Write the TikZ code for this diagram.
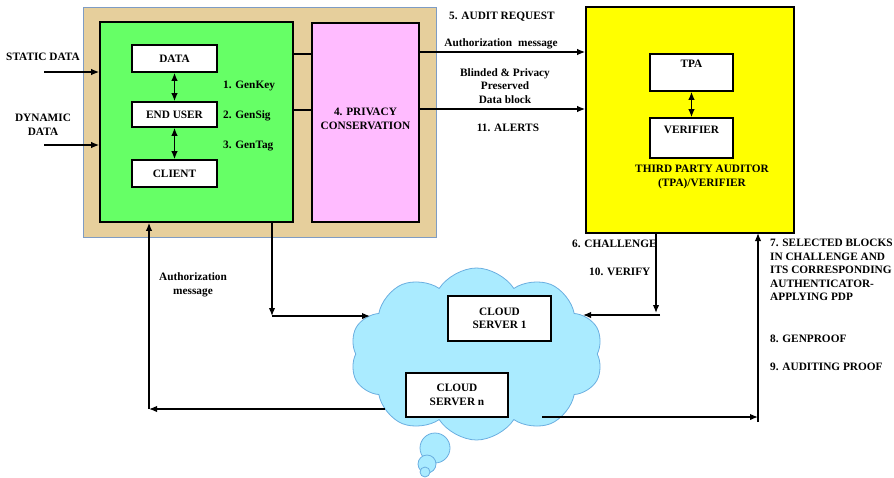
\documentclass[tikz,border=0pt]{standalone}
\usepackage{fontspec}
\setmainfont{Liberation Serif}
\usetikzlibrary{arrows.meta,shapes.symbols}
\definecolor{tanbg}{HTML}{E6CF9C}
\definecolor{tanedge}{HTML}{7E9CC4}
\definecolor{greenbox}{HTML}{66FF66}
\definecolor{pinkbox}{HTML}{FFBBFF}
\definecolor{yellowbox}{HTML}{FFFF00}
\definecolor{cloudfill}{HTML}{AAEBFF}
\definecolor{cloudedge}{HTML}{6AAEE0}
\begin{document}
\begin{tikzpicture}[x=1pt,y=-1pt,
  font=\bfseries\fontsize{11.3}{13.5}\selectfont,
  panel/.style={draw, line width=1.6pt, inner sep=0pt},
  wbox/.style={draw, line width=1.6pt, fill=white, inner sep=0pt, align=center},
  lbl/.style={inner sep=0pt, align=center},
  plain/.style={line width=1.4pt},
  tip/.tip={Latex[length=8pt,width=6.5pt]},
  conn/.style={line width=1.4pt, -tip},
  dconn/.style={line width=1.4pt, tip-tip}]
\useasboundingbox (0,0) rectangle (894,477);

% panels
\node[draw=tanedge, line width=0.8pt, fill=tanbg, minimum width=353pt, minimum height=230pt, inner sep=0pt] (tan) at (259.5,122) {};
\node[panel, fill=greenbox, minimum width=193pt, minimum height=200pt] (green) at (196.5,122) {};
\node[panel, fill=pinkbox, minimum width=107pt, minimum height=199pt] (pink) at (365.5,122.5) {};
\node[lbl] (pinktxt) at (365.5,119) {4. PRIVACY\\CONSERVATION};
\node[panel, fill=yellowbox, minimum width=208pt, minimum height=226pt] (yellow) at (690,120) {};

% cloud
\node[cloud, cloud puffs=10, cloud puff arc=115, aspect=1.47, draw=cloudedge, line width=0.8pt, fill=cloudfill, minimum width=253pt, minimum height=172pt, inner sep=0pt] (cloud) at (476.5,354) {};
\node[circle, draw=cloudedge, line width=0.8pt, fill=cloudfill, minimum size=30pt, inner sep=0pt] (bub1) at (435,448) {};
\node[circle, draw=cloudedge, line width=0.8pt, fill=cloudfill, minimum size=18pt, inner sep=0pt] (bub2) at (427,464) {};
\node[circle, draw=cloudedge, line width=0.8pt, fill=cloudfill, minimum size=10pt, inner sep=0pt] (bub3) at (425,472) {};

% inner boxes
\node[wbox, minimum width=85pt, minimum height=27pt] (data) at (174.5,58.5) {DATA};
\node[wbox, minimum width=85pt, minimum height=25pt] (enduser) at (174.5,114.5) {END USER};
\node[wbox, minimum width=85pt, minimum height=27pt] (client) at (174.5,173.5) {CLIENT};
\node[wbox, minimum width=83pt, minimum height=37pt, text depth=18pt] (tpa) at (691.5,72.5) {TPA};
\node[wbox, minimum width=83pt, minimum height=40pt, text depth=16pt] (verifier) at (691.5,138) {VERIFIER};
\node[wbox, minimum width=103pt, minimum height=45pt] (cs1) at (499.5,318.5) {CLOUD\\SERVER 1};
\node[wbox, minimum width=102pt, minimum height=44pt] (csn) at (457,395) {CLOUD\\SERVER n};

% labels
\node[lbl] (static) at (43,57) {STATIC DATA};
\node[lbl] (dynamic) at (43,125) {DYNAMIC\\DATA};
\node[lbl, anchor=west] (genkey) at (223,86) {1. GenKey};
\node[lbl, anchor=west] (gensig) at (223,116) {2. GenSig};
\node[lbl, anchor=west] (gentag) at (223,146) {3. GenTag};
\node[lbl, anchor=west] (audit) at (449,17) {5. AUDIT REQUEST};
\node[lbl] (authmsg) at (501,44) {Authorization\; message};
\node[lbl] (blinded) at (505,86) {Blinded \& Privacy\\Preserved\\Data block};
\node[lbl] (alerts) at (508,128) {11. ALERTS};
\node[lbl] (tpalbl) at (702,177) {THIRD PARTY AUDITOR\\(TPA)/VERIFIER};
\node[lbl] (authmsg2) at (193,285) {Authorization\\message};
\node[lbl, anchor=west] (chal) at (572,244) {6. CHALLENGE};
\node[lbl, anchor=west] (verify) at (589,272) {10. VERIFY};
\node[lbl, anchor=north west, align=left] (sel) at (770,239) {7. SELECTED BLOCKS\\IN CHALLENGE AND\\ITS CORRESPONDING\\AUTHENTICATOR-\\APPLYING PDP};
\node[lbl, anchor=west] (genproof) at (770,339) {8. GENPROOF};
\node[lbl, anchor=west] (audproof) at (770,367) {9. AUDITING PROOF};

% coordinates
\coordinate (sIn) at (44,72);
\coordinate (dIn) at (44,145);
\coordinate (gp1) at (293,54);
\coordinate (gp2) at (293,110);
\coordinate (py1) at (419,52);
\coordinate (py2) at (419,109);
\coordinate (gdown) at (272,222);
\coordinate (gcorner) at (272,316);
\coordinate (cin) at (370,316);
\coordinate (cnout) at (385,409);
\coordinate (lcorner) at (149,409);
\coordinate (ydown) at (656,233);
\coordinate (ycorner) at (656,313);
\coordinate (vstart) at (660,315);
\coordinate (vend) at (583,315);
\coordinate (cnright) at (542,417);
\coordinate (rcorner) at (758,417);
\coordinate (rbottom) at (758,422);
\coordinate (rtop) at (758,233);

% connectors
\draw[conn] (sIn) -- (sIn -| green.west);
\draw[conn] (dIn) -- (dIn -| green.west);
\draw[dconn] (data.south) -- (enduser.north);
\draw[dconn] (enduser.south) -- (client.north);
\draw[plain] (gp1) -- (gp1 -| pink.west);
\draw[plain] (gp2) -- (gp2 -| pink.west);
\draw[conn] (py1) -- (py1 -| yellow.west);
\draw[conn] (py2) -- (py2 -| yellow.west);
\draw[dconn] (tpa.south) -- (verifier.north);
\draw[conn] (gdown) -- (gcorner);
\draw[conn] (gcorner) -- (cin);
\draw[conn] (cnout) -- (lcorner);
\draw[conn] (lcorner) -- (lcorner |- green.south);
\draw[conn] (ydown) -- (ycorner);
\draw[conn] (vstart) -- (vend);
\draw[conn] (cnright) -- (rcorner);
\draw[conn] (rbottom) -- (rtop);
\end{tikzpicture}
\end{document}
